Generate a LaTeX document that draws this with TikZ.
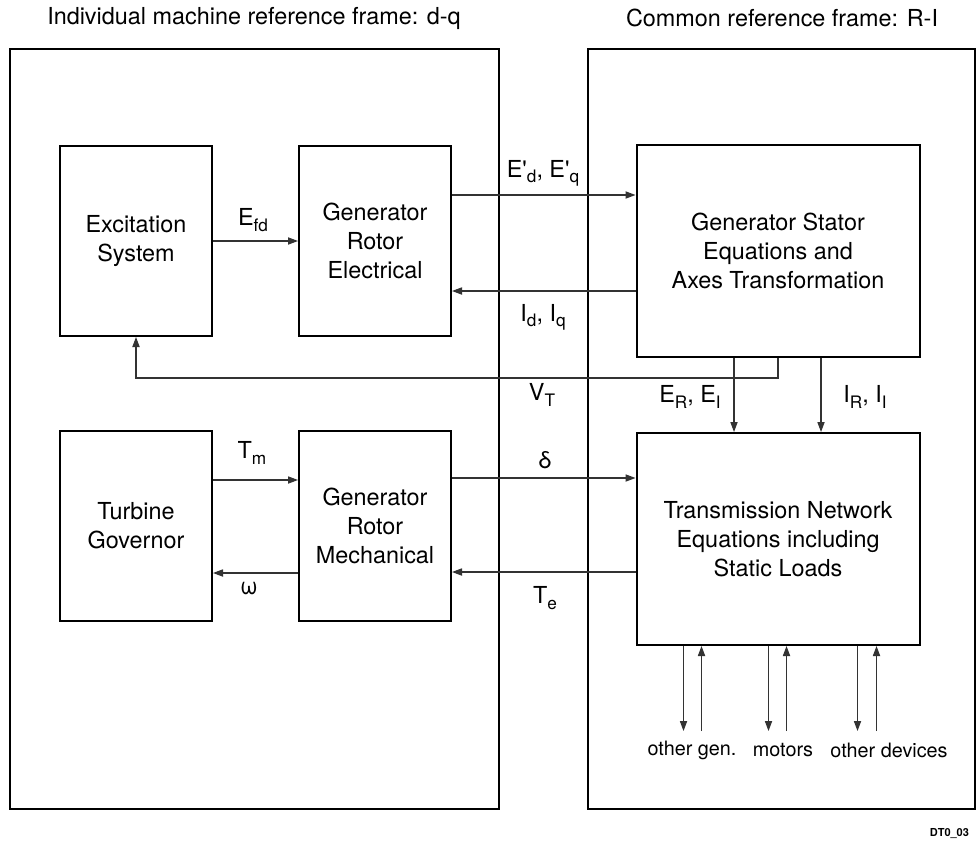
\documentclass[tikz,border=0pt]{standalone}
\usepackage{fontspec}
\setmainfont{TeX Gyre Heros}
\usetikzlibrary{positioning,arrows.meta}
\newcommand{\lowsub}[1]{\raisebox{-2.6pt}{\fontsize{8.6}{9}\selectfont #1}}

\begin{document}
\begin{tikzpicture}[x=0.5pt,y=-0.5pt,font=\fontsize{11.7}{14.5}\selectfont,
  blk/.style={draw,line width=1pt,align=center,minimum width=76pt,minimum height=95pt,inner sep=0pt},
  wide/.style={blk,minimum width=141.5pt,minimum height=106pt},
  frame/.style={draw,line width=1pt},
  arr/.style={draw,-{Triangle[length=5pt,width=3.6pt]},line width=0.55pt,black!80},
  dev/.style={font=\fontsize{9.9}{12}\selectfont}]
  \useasboundingbox (0,0) rectangle (977,840);
  \draw[frame] (10,49) rectangle (499,809);
  \draw[frame] (588,49) rectangle (975,809);
  \node (lt) at (254,18) {Individual machine reference frame: d-q};
  \node (rt) at (782,18) {Common reference frame: R-I};
  \node[blk] (exc) at (136,241) {Excitation\\System};
  \node[blk,right=42.5pt of exc] (gre) {Generator\\Rotor\\Electrical};
  \node[blk,below=46.5pt of exc] (turb) {Turbine\\Governor};
  \node[blk,right=42.5pt of turb] (grm) {Generator\\Rotor\\Mechanical};
  \node[wide] (sta) at (778,251) {Generator Stator\\Equations and\\Axes Transformation};
  \node[wide,below=37pt of sta] (net) {Transmission Network\\Equations including\\Static Loads};
  \coordinate (ed) at ([yshift=23pt]gre.east);
  \coordinate (id) at ([yshift=-25pt]gre.east);
  \coordinate (er) at ([xshift=-22pt]sta.south);
  \coordinate (ir) at ([xshift=21.5pt]sta.south);
  \coordinate (tm) at ([yshift=23pt]turb.east);
  \coordinate (om) at ([yshift=-23.5pt]turb.east);
  \coordinate (dl) at ([yshift=24pt]grm.east);
  \coordinate (te) at ([yshift=-23pt]grm.east);
  \draw[arr] (exc) -- (gre);
  \draw[arr] (ed) -- (ed -| sta.west);
  \draw[arr] (id -| sta.west) -- (id);
  \draw[arr] (sta.south) -- ++(0,20) -| (exc.south);
  \draw[arr] (er) -- (er |- net.north);
  \draw[arr] (ir) -- (ir |- net.north);
  \draw[arr] (tm) -- (tm -| grm.west);
  \draw[arr] (om -| grm.west) -- (om);
  \draw[arr] (dl) -- (dl -| net.west);
  \draw[arr] (te -| net.west) -- (te);
  \foreach \d/\u in {-47.25pt/-38.25pt,-4.75pt/4.25pt,39.75pt/49.25pt}{
    \draw[arr] ([xshift=\d]net.south) -- ++(0,85);
    \draw[arr] ([xshift=\u]net.south) ++(0,85) -- ([xshift=\u]net.south);
  }
  \node (efd) at (253,220) {E\lowsub{fd}};
  \node (edq) at (543,173) {E\textquotesingle\lowsub{d}, E\textquotesingle\lowsub{q}};
  \node (idq) at (543,317) {I\lowsub{d}, I\lowsub{q}};
  \node (vt) at (542,395) {V\lowsub{T}};
  \node (eri) at (690,397) {E\lowsub{R}, E\lowsub{I}};
  \node (iri) at (865,397) {I\lowsub{R}, I\lowsub{I}};
  \node (tml) at (252,453) {T\lowsub{m}};
  \node (oml) at (249,588) {ω};
  \node (dll) at (545,460) {δ};
  \node (tel) at (545,598) {T\lowsub{e}};
  \node[dev] (og) at (692,750) {other gen.};
  \node[dev] (mo) at (783,750) {motors};
  \node[dev] (od) at (889,750) {other devices};
  \node[anchor=east,font=\bfseries\fontsize{5.5}{6}\selectfont] (tag) at (976,834) {DT0\_03};
\end{tikzpicture}
\end{document}
